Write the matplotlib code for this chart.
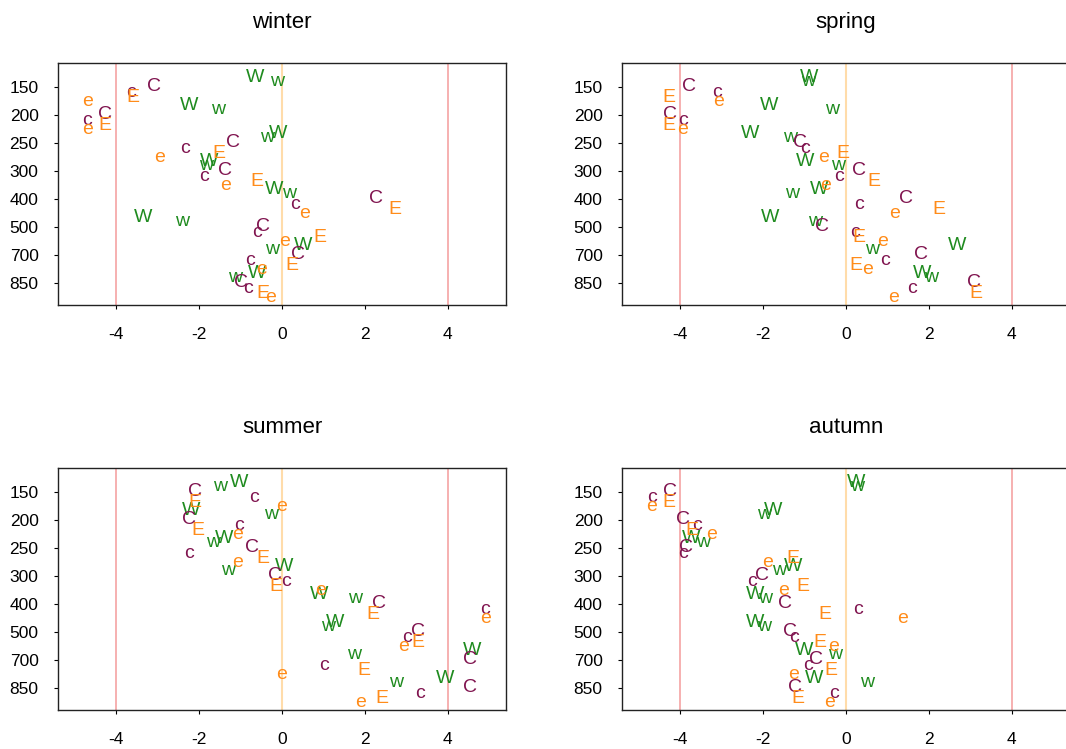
import numpy as np
import matplotlib.pyplot as plt

plt.rcParams['font.family'] = ['Liberation Sans', 'DejaVu Sans']

# pressure levels (hPa), drawn top to bottom
levels = [150, 200, 250, 300, 400, 500, 700, 850]
seasons = ['winter', 'spring', 'summer', 'autumn']

# anomaly of each label at each level
winter = {
    'W': [-0.65, -2.23, -0.09, -1.76, -0.18, -3.34, 0.51, -0.59],
    'w': [-0.11, -1.55, -0.35, -1.82, 0.18, -2.40, -0.25, -1.12],
    'C': [-3.08, -4.26, -1.17, -1.37, 2.27, -0.45, 0.38, -0.99],
    'c': [-3.65, -4.69, -2.33, -1.87, 0.31, -0.61, -0.76, -0.83],
    'E': [-3.60, -4.27, -1.51, -0.61, 2.71, 0.92, 0.25, -0.45],
    'e': [-4.69, -4.69, -2.96, -1.37, 0.54, 0.07, -0.50, -0.27],
}
spring = {
    'W': [-0.89, -1.86, -2.30, -0.99, -0.64, -1.84, 2.68, 1.83],
    'w': [-0.91, -0.34, -1.35, -0.19, -1.31, -0.74, 0.64, 2.04],
    'C': [-3.79, -4.25, -1.11, 0.32, 1.44, -0.57, 1.82, 3.08],
    'c': [-3.10, -3.94, -0.99, -0.17, 0.31, 0.21, 0.93, 1.60],
    'E': [-4.26, -4.26, -0.07, 0.67, 2.23, 0.31, 0.25, 3.13],
    'e': [-3.07, -3.95, -0.55, -0.50, 1.18, 0.87, 0.53, 1.14],
}
summer = {
    'W': [-1.04, -2.20, -1.40, 0.04, 0.89, 1.29, 4.59, 3.94],
    'w': [-1.49, -0.27, -1.65, -1.31, 1.76, 1.10, 1.74, 2.75],
    'C': [-2.09, -2.23, -0.73, -0.17, 2.35, 3.29, 4.53, 4.53],
    'c': [-0.67, -1.04, -2.23, 0.10, 4.89, 3.02, 1.02, 3.33],
    'E': [-2.11, -2.04, -0.46, -0.15, 2.18, 3.28, 1.97, 2.40],
    'e': [-0.01, -1.07, -1.07, 0.94, 4.91, 2.92, -0.02, 1.90],
}
autumn = {
    'W': [0.25, -1.76, -3.74, -1.28, -2.19, -2.19, -1.01, -0.77],
    'w': [0.26, -1.97, -3.45, -1.62, -1.94, -1.97, -0.26, 0.50],
    'C': [-4.25, -3.94, -3.86, -2.03, -1.47, -1.35, -0.72, -1.23],
    'c': [-4.68, -3.58, -3.94, -2.27, 0.29, -1.26, -0.92, -0.29],
    'E': [-4.26, -3.71, -1.28, -1.04, -0.50, -0.63, -0.36, -1.16],
    'e': [-4.68, -3.23, -1.88, -1.51, 1.37, -0.29, -1.26, -0.40],
}
season_data = [winter, spring, summer, autumn]

labels = ['W', 'w', 'C', 'c', 'E', 'e']
offsets = {'W': -0.33, 'w': -0.19, 'C': -0.02, 'c': 0.21, 'E': 0.37, 'e': 0.52}
colors = {'W': '#1f8b1f', 'w': '#1f8b1f', 'C': '#80144f', 'c': '#80144f',
          'E': '#ff8c1a', 'e': '#ff8c1a'}

W, H = 1066, 749
fig = plt.figure(figsize=(W / 100, H / 100), dpi=100)

# panel boxes in pixels: left, top
boxes = [(58, 63), (622, 63), (58, 468), (622, 468)]
bw, bh = 448, 242

yidx = np.arange(len(levels))
for (px, py), name, data in zip(boxes, seasons, season_data):
    ax = fig.add_axes([px / W, 1 - (py + bh) / H, bw / W, bh / H])
    ax.axvline(-4, color='#f5a3a3', lw=1.2, zorder=1)
    ax.axvline(4, color='#f5a3a3', lw=1.2, zorder=1)
    ax.axvline(0, color='#ffdcaa', lw=1.5, zorder=1)
    for lab in labels:
        for x, y in zip(data[lab], yidx):
            ax.text(x, y + offsets[lab], lab, color=colors[lab], fontsize=14,
                    ha='center', va='center', zorder=3)
    ax.set_xlim(-5.4, 5.4)
    ax.set_ylim(7.79, -0.86)
    ax.set_xticks([-4, -2, 0, 2, 4])
    ax.set_xticklabels(['-4', '-2', '0', '2', '4'])
    ax.set_yticks(yidx)
    ax.set_yticklabels([str(v) for v in levels])
    ax.tick_params(axis='x', length=3, width=0.8, pad=13, labelsize=12.5)
    ax.tick_params(axis='y', length=3, width=0.8, pad=11, labelsize=12.5)
    for s in ax.spines.values():
        s.set_color('#222222')
        s.set_linewidth(1.0)
    ax.set_title(name, fontsize=16, pad=25)

fig.savefig('out.png', dpi=100)
